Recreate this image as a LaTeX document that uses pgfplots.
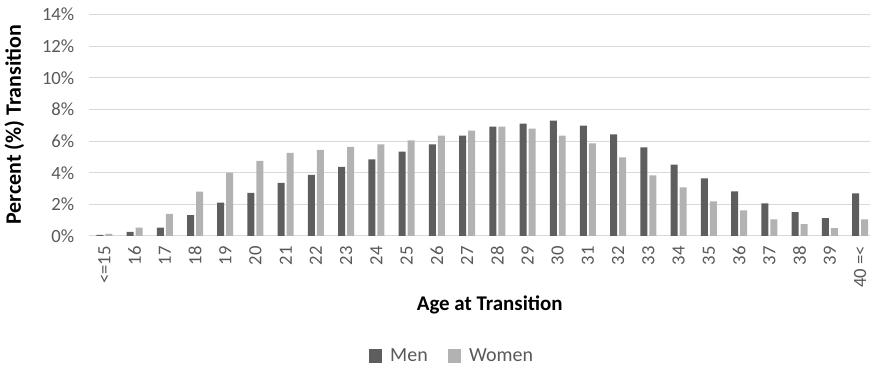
\documentclass[border=0pt]{standalone}
\usepackage{fontspec}
\setmainfont{Carlito}
\usepackage{pgfplots}
\pgfplotsset{compat=1.18}
\definecolor{menbar}{HTML}{5E5E5E}
\definecolor{womenbar}{HTML}{B2B2B2}
\definecolor{gridgray}{HTML}{D9D9D9}
\definecolor{labelgray}{HTML}{595959}
\newcommand{\lblfont}{\fontsize{14}{16}\selectfont}
\newcommand{\legfont}{\fontsize{15}{17}\selectfont}
\begin{document}
\begin{tikzpicture}
\begin{axis}[
  name=ax,
  scale only axis,
  width=585.75pt, height=166pt,
  ybar=1.5pt, bar width=5.25pt,
  xmin=-0.5, xmax=25.33,
  ymin=0, ymax=14,
  ytick={0,2,...,14},
  yticklabels={0\%,2\%,4\%,6\%,8\%,10\%,12\%,14\%},
  xtick={0,...,25},
  xticklabels={<=15,16,17,18,19,20,21,22,23,24,25,26,27,28,29,30,31,32,33,34,35,36,37,38,39,40 =<},
  major tick length=0pt,
  axis line style={draw=none},
  ymajorgrids,
  grid style={gridgray, line width=0.75pt},
  x tick label style={yshift=-7.5pt, rotate=90, anchor=east, inner sep=0pt, font=\lblfont, text=labelgray},
  y tick label style={anchor=east, inner sep=0pt, xshift=-11pt, font=\lblfont, text=labelgray},
  ylabel={Percent (\%) Transition},
  ylabel style={font=\bfseries\fontsize{16.5}{18}\selectfont, at={(axis description cs:-0.096,0.502)}, anchor=center},
  xlabel={Age at Transition},
  xlabel style={font=\bfseries\fontsize{15.7}{18}\selectfont, at={(axis description cs:0.513,-0.312)}, anchor=center},
  legend columns=2,
  legend style={at={(axis description cs:0.465,-0.543)}, anchor=center, draw=none,
    font=\legfont, text=labelgray,
    /tikz/every odd column/.append style={column sep=4pt},
    /tikz/every even column/.append style={column sep=13pt}},
  legend image code/.code={\fill[#1] (0pt,-5pt) rectangle (10pt,5pt);},
]
% Men
\addplot[fill=menbar, draw=none] coordinates {
  (0,0.07) (1,0.25) (2,0.53) (3,1.32) (4,2.10) (5,2.73) (6,3.36) (7,3.87)
  (8,4.37) (9,4.84) (10,5.34) (11,5.79) (12,6.35) (13,6.92) (14,7.11) (15,7.30)
  (16,6.98) (17,6.42) (18,5.60) (19,4.52) (20,3.64) (21,2.82) (22,2.06) (23,1.50)
  (24,1.12) (25,2.69)};
% Women
\addplot[fill=womenbar, draw=none] coordinates {
  (0,0.13) (1,0.53) (2,1.39) (3,2.80) (4,4.00) (5,4.75) (6,5.26) (7,5.45)
  (8,5.63) (9,5.79) (10,6.04) (11,6.35) (12,6.67) (13,6.92) (14,6.79) (15,6.35)
  (16,5.85) (17,4.97) (18,3.83) (19,3.07) (20,2.19) (21,1.62) (22,1.05) (23,0.74)
  (24,0.49) (25,1.05)};
\legend{Men,Women}
\end{axis}
\path (ax.south west) ++(-66.75pt,-99pt) rectangle ++(654pt,276pt);
\end{tikzpicture}
\end{document}
